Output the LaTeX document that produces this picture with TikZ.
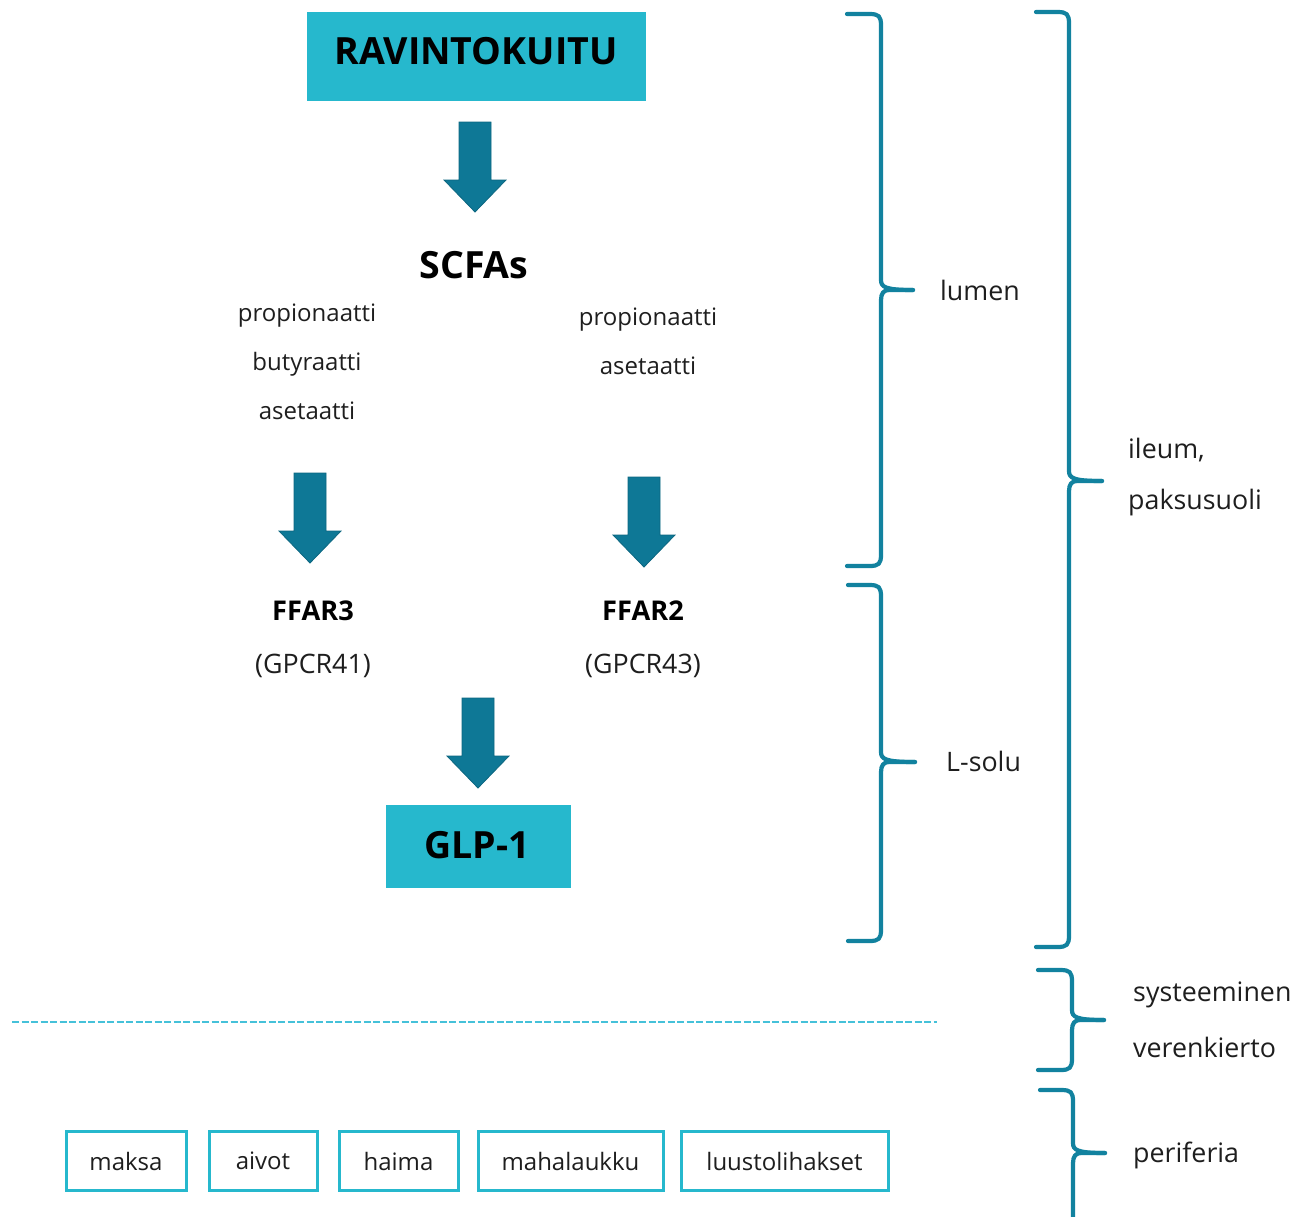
\documentclass[tikz,border=0pt]{standalone}
\usepackage{fontspec}
\setmainfont{Open Sans}
\definecolor{boxcyan}{HTML}{26B8CD}
\definecolor{arrowteal}{HTML}{0E7896}
\definecolor{bracecol}{HTML}{12829F}
\definecolor{dashcyan}{HTML}{45C1D9}
\definecolor{txt}{HTML}{1E1E1E}
\newcommand{\blockarrow}[2]{%
  \draw[arrowst] (#1-16,#2) -- (#1+16,#2) -- (#1+16,#2+58) -- (#1+31,#2+58) -- (#1,#2+90) -- (#1-31,#2+58) -- (#1-16,#2+58) -- cycle;}
\newcommand{\tbrace}[6]{%
  \draw[bracest] (#1,#4) -- (#2-12,#4) .. controls (#2-2,#4) and (#2,#4+2) .. (#2,#4+12) -- (#2,#5-10) .. controls (#2,#5-3) and (#2+4,#5) .. (#3,#5);
  \draw[bracest] (#3,#5) -- (#2+8,#5) .. controls (#2+3,#5) and (#2,#5+3) .. (#2,#5+10) -- (#2,#6-12) .. controls (#2,#6-2) and (#2-2,#6) .. (#2-12,#6) -- (#1,#6);}
\begin{document}
\begin{tikzpicture}[x=1pt,y=-1pt,
  arrowst/.style={fill=arrowteal,draw=arrowteal!85!black,line width=0.8pt},
  bracest/.style={draw=bracecol,line width=4.2pt,line cap=round,line join=round},
  mainbox/.style={fill=boxcyan,inner sep=0pt},
  bigtxt/.style={text=black,inner sep=0pt,font=\fontsize{37.5}{42}\selectfont\bfseries},
  smallbox/.style={draw=boxcyan,line width=3pt,fill=white,inner sep=0pt,minimum height=59pt,text=txt,font=\fontsize{24}{28}\selectfont},
  lbl/.style={text=txt,inner sep=0pt,font=\fontsize{24}{28}\selectfont},
  rlbl/.style={text=txt,inner sep=0pt,anchor=west,font=\fontsize{26.8}{32}\selectfont},
  blbl/.style={text=black,inner sep=0pt,font=\fontsize{27.2}{32}\selectfont\bfseries}]
\useasboundingbox (0,0) rectangle (1308,1216);
\clip (0,0) rectangle (1308,1216);
% main boxes
\node[mainbox,minimum width=339pt,minimum height=89pt] (ravinto) at (476.5,56.5) {};
\node[bigtxt] (ravintotxt) at (476,51) {RAVINTOKUITU};
\node[mainbox,minimum width=185pt,minimum height=83pt] (glp) at (478.5,846.5) {};
\node[bigtxt] (glptxt) at (477,845) {GLP-1};
% block arrows
\blockarrow{475}{122}
\blockarrow{310}{473}
\blockarrow{644}{477}
\blockarrow{478}{698}
% SCFAs
\node[bigtxt] (scfa) at (474,265) {SCFAs};
\node[lbl] (p1) at (307,316) {propionaatti};
\node[lbl] (b1) at (307,364) {butyraatti};
\node[lbl] (a1) at (307,411) {asetaatti};
\node[lbl] (p2) at (648,320) {propionaatti};
\node[lbl] (a2) at (648,366) {asetaatti};
% receptors
\node[blbl] (ffar3) at (313,611) {FFAR3};
\node[rlbl,anchor=center] (gpcr41) at (313,666) {(GPCR41)};
\node[blbl] (ffar2) at (643,611) {FFAR2};
\node[rlbl,anchor=center] (gpcr43) at (643,666) {(GPCR43)};
% dashed line
\coordinate (dl) at (12,1022);
\coordinate (dr) at (937,1022);
\draw[dashcyan,line width=2pt,dash pattern=on 7pt off 2.5pt] (dl) -- (dr);
% bottom boxes
\node[smallbox,minimum width=120pt] (maksa) at (126,1161) {maksa};
\node[smallbox,minimum width=108pt] (aivot) at (263,1161) {aivot};
\node[smallbox,minimum width=119pt] (haima) at (398.5,1161) {haima};
\node[smallbox,minimum width=185pt] (maha) at (570.5,1161) {mahalaukku};
\node[smallbox,minimum width=207pt] (luusto) at (784.5,1161) {luustolihakset};
% braces
\tbrace{847}{881}{913}{14}{290}{566}
\tbrace{848}{881}{915}{585}{762}{941}
\tbrace{1036}{1069}{1102}{12}{481}{947}
\tbrace{1038}{1072}{1104}{970}{1020}{1070}
\tbrace{1040}{1073}{1105}{1090}{1153}{1226}
% brace labels
\node[rlbl] (lumen) at (940,290) {lumen};
\node[rlbl] (lsolu) at (946,761) {L-solu};
\node[rlbl] (ileum) at (1128,450) {ileum,};
\node[rlbl] (paksu) at (1128,503) {paksusuoli};
\node[rlbl] (syst) at (1133,995) {systeeminen};
\node[rlbl] (veren) at (1133,1047) {verenkierto};
\node[rlbl] (perif) at (1133,1155) {periferia};
\end{tikzpicture}
\end{document}
